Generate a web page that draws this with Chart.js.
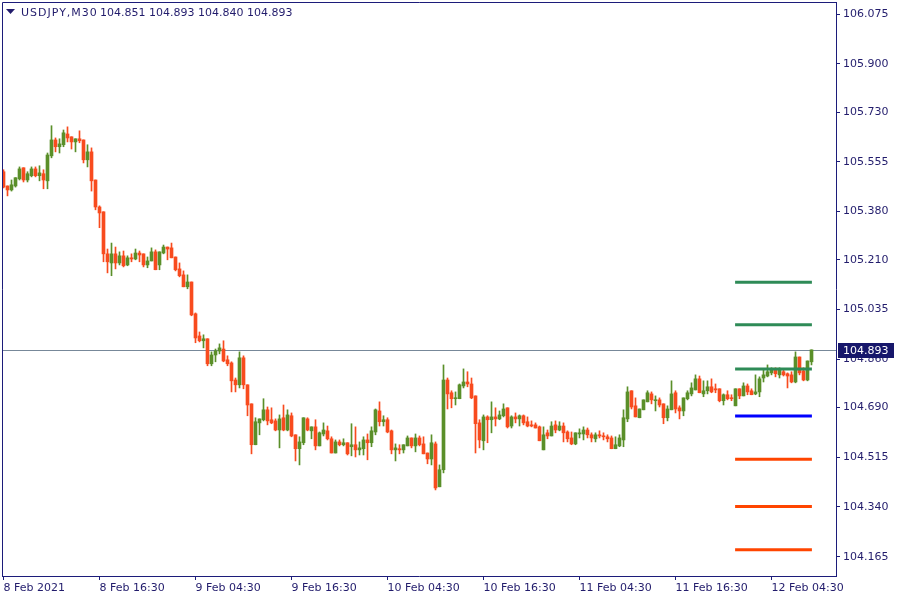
<!DOCTYPE html>
<html>
<head>
<meta charset="utf-8">
<title>USDJPY,M30</title>
<script src="https://cdn.jsdelivr.net/npm/chart.js@4.4.1/dist/chart.umd.min.js"></script>
<style>
  html, body { margin: 0; padding: 0; background: #fff; }
  #chart { display: block; }
</style>
</head>
<body>
<canvas id="chart" width="900" height="600"></canvas>
<script>
// USDJPY M30 candles, oldest first
const opens = [
  105.520, 105.470, 105.456, 105.470, 105.495, 105.534, 105.491, 105.506, 105.530, 105.506,
  105.513, 105.488, 105.576, 105.632, 105.608, 105.615, 105.653, 105.643, 105.625, 105.636,
  105.632, 105.562, 105.590, 105.491, 105.396, 105.379, 105.231, 105.199, 105.231, 105.199,
  105.224, 105.192, 105.217, 105.213, 105.234, 105.231, 105.192, 105.206, 105.238, 105.192,
  105.234, 105.255, 105.252, 105.220, 105.178, 105.157, 105.115, 105.132, 105.020, 104.942,
  104.925, 104.932, 104.844, 104.875, 104.889, 104.896, 104.858, 104.847, 104.787, 104.770,
  104.865, 104.770, 104.703, 104.559, 104.636, 104.647, 104.682, 104.647, 104.643, 104.611,
  104.654, 104.611, 104.661, 104.594, 104.545, 104.566, 104.650, 104.608, 104.622, 104.555,
  104.597, 104.608, 104.580, 104.530, 104.569, 104.559, 104.566, 104.552, 104.559, 104.541,
  104.545, 104.576, 104.566, 104.604, 104.678, 104.640, 104.647, 104.608, 104.541, 104.545,
  104.541, 104.555, 104.583, 104.555, 104.583, 104.562, 104.530, 104.509, 104.562, 104.411,
  104.471, 104.787, 104.742, 104.721, 104.721, 104.766, 104.780, 104.773, 104.731, 104.636,
  104.573, 104.657, 104.647, 104.657, 104.650, 104.661, 104.689, 104.625, 104.657, 104.650,
  104.661, 104.640, 104.629, 104.629, 104.622, 104.541, 104.601, 104.590, 104.629, 104.611,
  104.625, 104.604, 104.583, 104.562, 104.597, 104.597, 104.611, 104.594, 104.580, 104.594,
  104.590, 104.587, 104.583, 104.545, 104.555, 104.576, 104.650, 104.749, 104.696, 104.654,
  104.682, 104.710, 104.738, 104.714, 104.717, 104.703, 104.654, 104.682, 104.742, 104.689,
  104.678, 104.721, 104.738, 104.752, 104.791, 104.738, 104.749, 104.763, 104.756, 104.756,
  104.714, 104.735, 104.724, 104.696, 104.756, 104.731, 104.766, 104.749, 104.738, 104.745,
  104.794, 104.801, 104.812, 104.823, 104.805, 104.816, 104.809, 104.805, 104.780, 104.868,
  104.819, 104.787, 104.851
];
const highs = [
  105.527, 105.470, 105.491, 105.499, 105.537, 105.534, 105.520, 105.537, 105.537, 105.541,
  105.527, 105.586, 105.682, 105.639, 105.636, 105.667, 105.678, 105.643, 105.636, 105.664,
  105.632, 105.615, 105.604, 105.491, 105.400, 105.379, 105.248, 105.269, 105.255, 105.238,
  105.241, 105.224, 105.231, 105.248, 105.241, 105.231, 105.220, 105.252, 105.245, 105.238,
  105.262, 105.255, 105.269, 105.220, 105.199, 105.171, 105.157, 105.132, 105.023, 104.956,
  104.946, 104.932, 104.886, 104.896, 104.914, 104.925, 104.872, 104.851, 104.794, 104.886,
  104.872, 104.770, 104.703, 104.654, 104.650, 104.721, 104.692, 104.689, 104.650, 104.664,
  104.699, 104.682, 104.671, 104.594, 104.587, 104.654, 104.654, 104.622, 104.647, 104.604,
  104.636, 104.625, 104.587, 104.576, 104.576, 104.580, 104.566, 104.633, 104.622, 104.569,
  104.587, 104.597, 104.622, 104.685, 104.710, 104.661, 104.654, 104.611, 104.562, 104.559,
  104.559, 104.590, 104.583, 104.597, 104.590, 104.587, 104.530, 104.594, 104.569, 104.488,
  104.840, 104.794, 104.749, 104.745, 104.773, 104.826, 104.816, 104.794, 104.731, 104.647,
  104.664, 104.661, 104.710, 104.689, 104.678, 104.703, 104.689, 104.661, 104.671, 104.664,
  104.664, 104.657, 104.643, 104.636, 104.625, 104.622, 104.611, 104.640, 104.643, 104.640,
  104.636, 104.608, 104.604, 104.601, 104.615, 104.622, 104.618, 104.601, 104.601, 104.608,
  104.601, 104.594, 104.590, 104.587, 104.594, 104.682, 104.763, 104.749, 104.724, 104.685,
  104.717, 104.749, 104.745, 104.731, 104.724, 104.703, 104.696, 104.784, 104.749, 104.696,
  104.724, 104.749, 104.777, 104.805, 104.801, 104.784, 104.784, 104.791, 104.773, 104.756,
  104.738, 104.749, 104.735, 104.756, 104.756, 104.777, 104.773, 104.756, 104.805, 104.798,
  104.823, 104.840, 104.830, 104.830, 104.830, 104.823, 104.812, 104.816, 104.886, 104.868,
  104.830, 104.854, 104.893
];
const lows = [
  105.463, 105.435, 105.452, 105.466, 105.491, 105.484, 105.484, 105.502, 105.502, 105.488,
  105.460, 105.460, 105.569, 105.590, 105.586, 105.608, 105.625, 105.600, 105.590, 105.622,
  105.551, 105.537, 105.452, 105.386, 105.323, 105.203, 105.164, 105.154, 105.178, 105.192,
  105.185, 105.189, 105.203, 105.210, 105.203, 105.185, 105.182, 105.206, 105.175, 105.175,
  105.231, 105.210, 105.217, 105.171, 105.150, 105.115, 105.108, 105.013, 104.918, 104.921,
  104.900, 104.837, 104.837, 104.851, 104.879, 104.851, 104.837, 104.745, 104.745, 104.759,
  104.756, 104.661, 104.527, 104.559, 104.594, 104.643, 104.629, 104.633, 104.608, 104.548,
  104.608, 104.608, 104.587, 104.502, 104.488, 104.559, 104.608, 104.580, 104.541, 104.555,
  104.590, 104.576, 104.530, 104.530, 104.555, 104.555, 104.523, 104.520, 104.516, 104.523,
  104.523, 104.506, 104.552, 104.594, 104.625, 104.625, 104.601, 104.527, 104.502, 104.527,
  104.530, 104.555, 104.548, 104.534, 104.555, 104.527, 104.492, 104.488, 104.400, 104.411,
  104.460, 104.685, 104.689, 104.699, 104.721, 104.759, 104.763, 104.721, 104.530, 104.548,
  104.541, 104.566, 104.601, 104.625, 104.647, 104.657, 104.618, 104.618, 104.636, 104.625,
  104.629, 104.622, 104.622, 104.618, 104.573, 104.541, 104.580, 104.590, 104.601, 104.608,
  104.569, 104.569, 104.559, 104.559, 104.583, 104.576, 104.583, 104.569, 104.569, 104.583,
  104.576, 104.569, 104.545, 104.545, 104.552, 104.552, 104.640, 104.685, 104.657, 104.654,
  104.682, 104.710, 104.703, 104.678, 104.692, 104.633, 104.643, 104.682, 104.671, 104.650,
  104.661, 104.717, 104.731, 104.752, 104.742, 104.728, 104.738, 104.742, 104.742, 104.710,
  104.699, 104.717, 104.714, 104.696, 104.721, 104.731, 104.735, 104.735, 104.735, 104.728,
  104.780, 104.798, 104.805, 104.798, 104.794, 104.801, 104.759, 104.777, 104.777, 104.805,
  104.784, 104.784, 104.840
];
const closes = [
  105.466, 105.456, 105.474, 105.499, 105.530, 105.491, 105.513, 105.530, 105.506, 105.516,
  105.491, 105.579, 105.632, 105.608, 105.618, 105.657, 105.639, 105.625, 105.636, 105.629,
  105.562, 105.590, 105.488, 105.396, 105.375, 105.231, 105.203, 105.231, 105.199, 105.224,
  105.189, 105.217, 105.213, 105.234, 105.227, 105.192, 105.206, 105.238, 105.175, 105.238,
  105.255, 105.248, 105.217, 105.175, 105.154, 105.115, 105.132, 105.016, 104.935, 104.925,
  104.932, 104.844, 104.875, 104.889, 104.900, 104.854, 104.844, 104.784, 104.770, 104.865,
  104.770, 104.699, 104.559, 104.640, 104.650, 104.682, 104.643, 104.636, 104.611, 104.650,
  104.611, 104.664, 104.590, 104.545, 104.569, 104.654, 104.611, 104.622, 104.555, 104.601,
  104.611, 104.580, 104.530, 104.569, 104.559, 104.566, 104.527, 104.559, 104.541, 104.548,
  104.576, 104.566, 104.608, 104.682, 104.640, 104.647, 104.604, 104.541, 104.548, 104.541,
  104.559, 104.583, 104.555, 104.583, 104.559, 104.527, 104.509, 104.566, 104.407, 104.471,
  104.787, 104.738, 104.721, 104.724, 104.770, 104.780, 104.773, 104.724, 104.633, 104.576,
  104.657, 104.647, 104.657, 104.650, 104.664, 104.685, 104.622, 104.657, 104.650, 104.661,
  104.636, 104.625, 104.625, 104.618, 104.573, 104.594, 104.590, 104.625, 104.611, 104.625,
  104.601, 104.580, 104.562, 104.601, 104.601, 104.611, 104.594, 104.583, 104.594, 104.590,
  104.587, 104.580, 104.545, 104.559, 104.583, 104.654, 104.745, 104.692, 104.657, 104.685,
  104.717, 104.742, 104.717, 104.717, 104.699, 104.654, 104.685, 104.738, 104.685, 104.678,
  104.724, 104.742, 104.759, 104.791, 104.742, 104.749, 104.763, 104.745, 104.752, 104.714,
  104.735, 104.721, 104.721, 104.756, 104.731, 104.766, 104.745, 104.735, 104.745, 104.791,
  104.805, 104.816, 104.823, 104.809, 104.823, 104.805, 104.801, 104.780, 104.868, 104.812,
  104.787, 104.854, 104.893
];

// time axis: one label every 24 bars
const timeTickBars = [0, 24, 48, 72, 96, 120, 144, 168, 192];
const timeTickLabels = ['8 Feb 2021', '8 Feb 16:30', '9 Feb 04:30', '9 Feb 16:30', '10 Feb 04:30',
  '10 Feb 16:30', '11 Feb 04:30', '11 Feb 16:30', '12 Feb 04:30'];

// price axis
const priceTicks = [104.165, 104.340, 104.515, 104.690, 104.860, 105.035, 105.210, 105.380, 105.555, 105.730, 105.900, 106.075];
const priceTickLabels = ['104.165', '104.340', '104.515', '104.690', '104.860', '105.035', '105.210', '105.380', '105.555', '105.730', '105.900', '106.075'];

// pivot levels: R3, R2, R1, P, S1, S2, S3
const pivotLevels = [105.131, 104.981, 104.826, 104.660, 104.508, 104.342, 104.189];
const pivotNames = ['R3', 'R2', 'R1', 'P', 'S1', 'S2', 'S3'];
const levelFromBar = 182.9;
const levelToBar = 202.1;

const symbol = 'USDJPY,M30';
const lastBar = opens.length - 1;
const lastPrice = closes[lastBar];

const upColor = '#5a8f29';
const downColor = '#f84b1e';
const frameColor = '#1c1c7a';
const textColor = '#221c6c';
const font = '"DejaVu Sans", Tahoma, sans-serif';

Chart.defaults.font.family = font;
Chart.defaults.font.size = 11;

const candleColor = c => closes[c.dataIndex] >= opens[c.dataIndex] ? upColor : downColor;
const levelColor = i => i < 3 ? '#2e8b57' : (i === 3 ? '#0000ff' : '#ff4500');

const levelSets = pivotLevels.map((v, i) => ({
    type: 'line',
    label: pivotNames[i],
    data: [{ x: levelFromBar, y: v }, { x: levelToBar, y: v }],
    borderColor: levelColor(i),
    borderWidth: 3,
    borderCapStyle: 'butt',
    pointRadius: 0,
    order: 0
}));

// no extra room for half labels at the ends of the axes
const noPadding = s => { s.paddingTop = 0; s.paddingBottom = 0; s.paddingLeft = 0; s.paddingRight = 0; };

const mtOverlay = {
    id: 'mtOverlay',
    beforeDatasetsDraw(chart) {
        // bid line
        const { ctx, chartArea: a, scales: { y } } = chart;
        const py = Math.round(y.getPixelForValue(lastPrice)) + 0.5;
        ctx.save();
        ctx.strokeStyle = '#778899';
        ctx.lineWidth = 1;
        ctx.beginPath();
        ctx.moveTo(a.left, py);
        ctx.lineTo(a.right, py);
        ctx.stroke();
        ctx.restore();
    },
    afterDraw(chart) {
        const { ctx, chartArea: a, scales: { y } } = chart;
        ctx.save();
        // left + top frame
        ctx.strokeStyle = frameColor;
        ctx.lineWidth = 1;
        ctx.beginPath();
        ctx.moveTo(a.left + 0.5, a.bottom);
        ctx.lineTo(a.left + 0.5, a.top + 0.5);
        ctx.lineTo(a.right, a.top + 0.5);
        ctx.stroke();

        // last price tag on the price axis
        const py = Math.round(y.getPixelForValue(lastPrice));
        ctx.fillStyle = '#17176b';
        ctx.fillRect(a.right + 2, py - 7, 56, 15);
        ctx.fillStyle = '#ffffff';
        ctx.font = '11px ' + font;
        ctx.textBaseline = 'middle';
        ctx.textAlign = 'left';
        ctx.fillText(lastPrice.toFixed(3), a.right + 7, py + 1);

        // header
        ctx.fillStyle = textColor;
        ctx.beginPath();
        ctx.moveTo(6, 9);
        ctx.lineTo(15, 9);
        ctx.lineTo(10.5, 14);
        ctx.closePath();
        ctx.fill();
        ctx.textBaseline = 'alphabetic';
        ctx.letterSpacing = '1px';
        ctx.fillText(symbol, 21, 16);
        ctx.letterSpacing = '0px';
        const ohlc = [opens[lastBar], highs[lastBar], lows[lastBar], closes[lastBar]].map(v => v.toFixed(3)).join(' ');
        ctx.fillText(ohlc, 100, 16);
        ctx.restore();
    }
};

new Chart(document.getElementById('chart'), {
    type: 'bar',
    data: {
        datasets: [
            ...levelSets,
            {
                label: 'body',
                data: opens.map((o, i) => ({ x: i, y: [o, closes[i]] })),
                backgroundColor: candleColor,
                barThickness: 3,
                minBarLength: 1,
                grouped: false,
                borderWidth: 0,
                order: 1
            },
            {
                label: 'wick',
                data: lows.map((l, i) => ({ x: i, y: [l, highs[i]] })),
                backgroundColor: candleColor,
                barThickness: 1,
                grouped: false,
                borderWidth: 0,
                order: 2
            }
        ]
    },
    options: {
        responsive: false,
        devicePixelRatio: 1,
        animation: false,
        events: [],
        layout: { padding: { left: 2, top: 2, right: 0, bottom: 0 } },
        plugins: { legend: { display: false }, tooltip: { enabled: false } },
        scales: {
            x: {
                type: 'linear',
                position: 'bottom',
                min: -0.375,
                max: 208.125,
                offset: false,
                grid: { drawOnChartArea: false, drawTicks: true, tickLength: 4, color: frameColor, offset: false },
                border: { color: frameColor, width: 1 },
                ticks: {
                    autoSkip: false,
                    maxRotation: 0,
                    align: 'start',
                    padding: 2,
                    color: textColor,
                    callback: (v, i) => timeTickLabels[i]
                },
                afterBuildTicks: s => { s.ticks = timeTickBars.map(v => ({ value: v })); },
                afterFit: s => { s.height = 24; noPadding(s); }
            },
            y: {
                type: 'linear',
                position: 'right',
                min: 104.097,
                max: 106.1175,
                grid: { drawOnChartArea: false, drawTicks: true, tickLength: 4, color: frameColor },
                border: { color: frameColor, width: 1 },
                ticks: {
                    autoSkip: false,
                    padding: 3,
                    color: textColor,
                    callback: (v, i) => priceTickLabels[i]
                },
                afterBuildTicks: s => { s.ticks = priceTicks.map(v => ({ value: v })); },
                afterFit: s => { s.width = 64; noPadding(s); }
            }
        }
    },
    plugins: [mtOverlay]
});
</script>
</body>
</html>
